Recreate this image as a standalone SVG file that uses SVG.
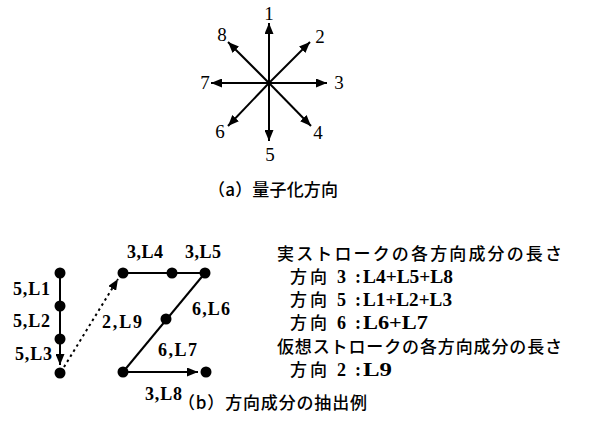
<svg xmlns="http://www.w3.org/2000/svg" width="591" height="445" viewBox="0 0 591 445">
<defs>
<marker id="ah" markerUnits="userSpaceOnUse" markerWidth="11" markerHeight="9" refX="11" refY="4.5" orient="auto">
<path d="M0,0 L11,4.5 L0,9 z" fill="#000"/>
</marker>
<style>
.ln{stroke:#000;stroke-width:2;fill:none}
.dot{fill:#000}
.num{font-family:"Liberation Serif",serif;font-size:19px;fill:#000;text-anchor:middle}
.lbl{font-family:"Liberation Serif",serif;font-size:18px;font-weight:bold;fill:#000}
.jp{font-family:"Noto Sans CJK JP",sans-serif;font-size:17px;font-weight:500;fill:#000}
</style>
</defs>
<rect width="591" height="445" fill="#fff"/>
<g id="star">
<line class="ln" x1="269" y1="83" x2="269" y2="23" marker-end="url(#ah)"/>
<line class="ln" x1="269" y1="83" x2="310" y2="42" marker-end="url(#ah)"/>
<line class="ln" x1="269" y1="83" x2="327" y2="83" marker-end="url(#ah)"/>
<line class="ln" x1="269" y1="83" x2="311" y2="126" marker-end="url(#ah)"/>
<line class="ln" x1="269" y1="83" x2="269" y2="141" marker-end="url(#ah)"/>
<line class="ln" x1="269" y1="83" x2="228" y2="126" marker-end="url(#ah)"/>
<line class="ln" x1="269" y1="83" x2="211" y2="83" marker-end="url(#ah)"/>
<line class="ln" x1="269" y1="83" x2="228" y2="42" marker-end="url(#ah)"/>
<text class="num" x="269" y="20">1</text>
<text class="num" x="320" y="43">2</text>
<text class="num" x="339" y="89">3</text>
<text class="num" x="318" y="139">4</text>
<text class="num" x="270" y="161">5</text>
<text class="num" x="220" y="138">6</text>
<text class="num" x="205" y="89">7</text>
<text class="num" x="222" y="41">8</text>
</g>
<text class="jp" x="208" y="196" textLength="130" lengthAdjust="spacing">（a）量子化方向</text>
<g id="connectors">
<line class="ln" x1="60" y1="273" x2="60" y2="365" marker-end="url(#ah)"/>
<line class="ln" x1="64" y1="367" x2="118" y2="279" stroke-width="2.5" stroke-dasharray="2.5,3.5" marker-end="url(#ah)"/>
<line class="ln" x1="123" y1="273" x2="205" y2="273"/>
<line class="ln" x1="205" y1="273" x2="123" y2="372"/>
<line class="ln" x1="123" y1="372" x2="198" y2="372" marker-end="url(#ah)"/>
</g>
<g id="dots">
<circle class="dot" cx="60" cy="273" r="5.5"/>
<circle class="dot" cx="60" cy="306" r="5.5"/>
<circle class="dot" cx="60" cy="339" r="5.5"/>
<circle class="dot" cx="60" cy="373" r="5.5"/>
<circle class="dot" cx="123" cy="273" r="5.5"/>
<circle class="dot" cx="172" cy="273" r="5.5"/>
<circle class="dot" cx="205" cy="273" r="5.5"/>
<circle class="dot" cx="166" cy="319" r="5.5"/>
<circle class="dot" cx="123" cy="372" r="5.5"/>
<circle class="dot" cx="206" cy="372" r="5.5"/>
</g>
<g id="labels">
<text class="lbl" x="13" y="295" textLength="37">5,L1</text>
<text class="lbl" x="13" y="327" textLength="37">5,L2</text>
<text class="lbl" x="15" y="360" textLength="37">5,L3</text>
<text class="lbl" x="127" y="258" textLength="36">3,L4</text>
<text class="lbl" x="185" y="258" textLength="36">3,L5</text>
<text class="lbl" x="192" y="315" textLength="38">6,L6</text>
<text class="lbl" x="102" y="328" textLength="40">2,L9</text>
<text class="lbl" x="158" y="356" textLength="39">6,L7</text>
<text class="lbl" x="145" y="400" textLength="37">3,L8</text>
</g>
<g id="legend">
<text class="jp" x="277" y="260" textLength="285" lengthAdjust="spacing">実ストロークの各方向成分の長さ</text>
<text class="jp" x="290" y="283" letter-spacing="3">方向</text>
<text class="lbl" x="337" y="283">3</text>
<text class="lbl" x="355" y="283">:</text>
<text class="lbl" x="363" y="283" textLength="90" lengthAdjust="spacingAndGlyphs">L4+L5+L8</text>
<text class="jp" x="290" y="306" letter-spacing="3">方向</text>
<text class="lbl" x="337" y="306">5</text>
<text class="lbl" x="355" y="306">:</text>
<text class="lbl" x="363" y="306" textLength="89" lengthAdjust="spacingAndGlyphs">L1+L2+L3</text>
<text class="jp" x="290" y="329" letter-spacing="3">方向</text>
<text class="lbl" x="337" y="329">6</text>
<text class="lbl" x="355" y="329">:</text>
<text class="lbl" x="363" y="329" textLength="65" lengthAdjust="spacingAndGlyphs">L6+L7</text>
<text class="jp" x="277" y="353" textLength="285" lengthAdjust="spacing">仮想ストロークの各方向成分の長さ</text>
<text class="jp" x="290" y="376" letter-spacing="3">方向</text>
<text class="lbl" x="337" y="376">2</text>
<text class="lbl" x="355" y="376">:</text>
<text class="lbl" x="363" y="376" textLength="29" lengthAdjust="spacingAndGlyphs">L9</text>
</g>
<text class="jp" x="178" y="409" textLength="189" lengthAdjust="spacing">（b）方向成分の抽出例</text>
</svg>
